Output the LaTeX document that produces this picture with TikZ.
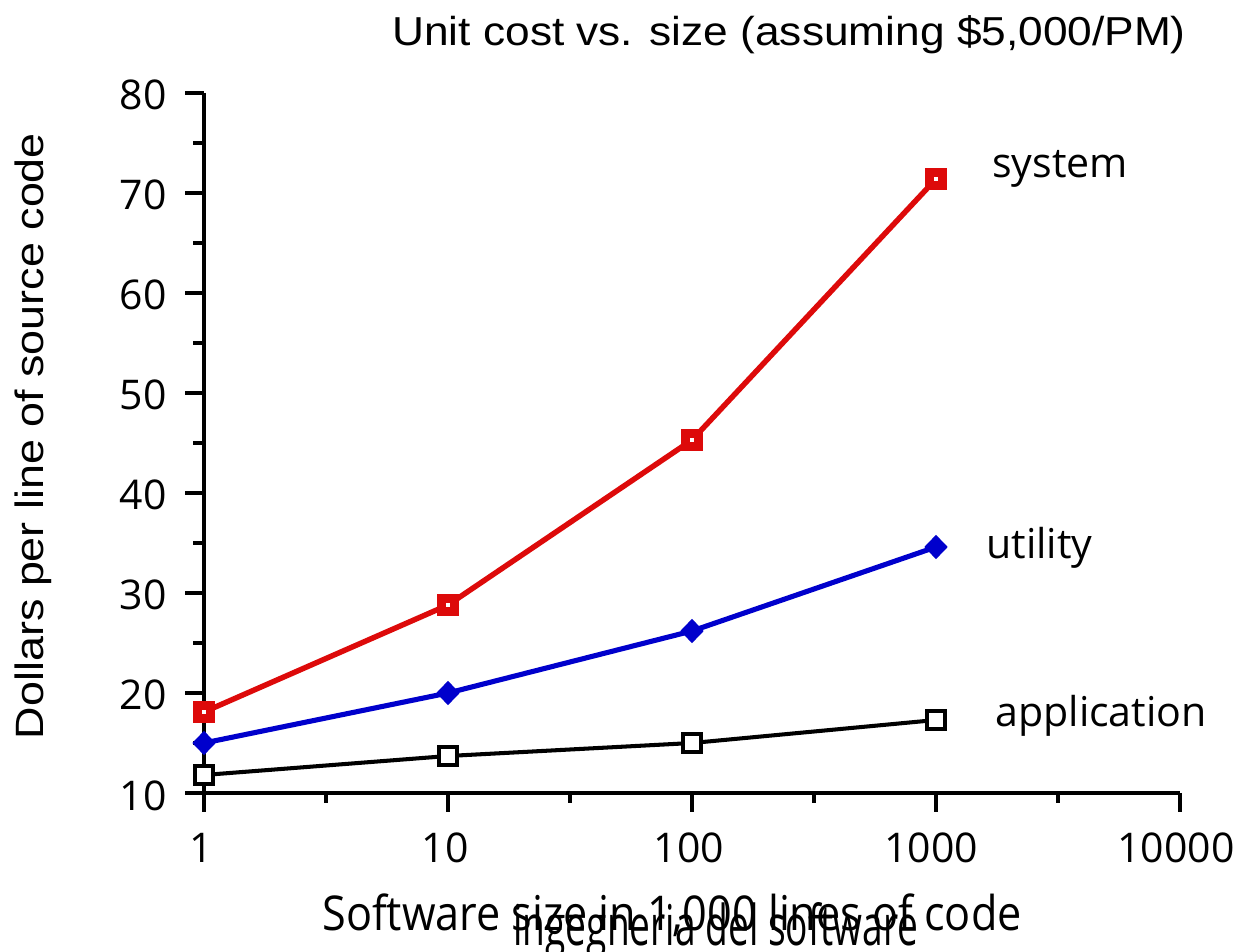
\documentclass[tikz,border=0pt]{standalone}
\usepackage{fontspec}
\setmainfont{Open Sans}
\newfontfamily\helvfont{Liberation Sans}
\usetikzlibrary{shapes.geometric,backgrounds}
\definecolor{sysred}{RGB}{221,10,10}
\definecolor{utilblue}{RGB}{0,0,204}
\begin{document}
\begin{tikzpicture}[x=0.02cm,y=-0.02cm,
  axisline/.style={line width=2.4pt},
  ticklabel/.style={inner sep=0pt, font=\fontsize{23.3}{28}\selectfont},
  serieslabel/.style={inner sep=0pt, anchor=base west, font=\fontsize{23.4}{28}\selectfont},
  sysline/.style={sysred, line width=3.1pt},
  utilline/.style={utilblue, line width=2.9pt},
  appline/.style={black, line width=2.3pt},
  sysmark/.style={rectangle, fill=sysred, minimum size=12.8pt, inner sep=0pt,
    path picture={\fill[white] ([xshift=-1.2pt,yshift=-1.2pt]path picture bounding box.center) rectangle ++(2.4pt,2.4pt);}},
  utilmark/.style={diamond, fill=utilblue, minimum width=13.5pt, minimum height=14pt, inner sep=0pt},
  appmark/.style={rectangle, draw=black, fill=white, line width=2.1pt, minimum size=10pt, inner sep=0pt}
]
\useasboundingbox (0,0) rectangle (1245,952);

% axes
\draw[axisline] (185,793) -- (1180,793);
\draw[axisline] (204,93) -- (204,812);

% y ticks and labels
\foreach \v in {10,20,...,80} {
  \draw[axisline] (185,{893-10*\v}) -- (204,{893-10*\v});
  \node[ticklabel, anchor=base east] (yl\v) at (167,{910-10*\v}) {\v};
}
\foreach \v in {15,25,...,75} {
  \draw[axisline] (193,{893-10*\v}) -- (204,{893-10*\v});
}

% x ticks (log scale, one decade = 244 units)
\foreach \x in {448,692,936,1180} {
  \draw[axisline] (\x,793) -- (\x,812);
}
\foreach \x in {326,570,814,1058} {
  \draw[axisline] (\x,793) -- (\x,803);
}
\node[ticklabel, anchor=base] (xl1) at (201,863) {1};
\node[ticklabel, anchor=base] (xl10) at (445,863) {10};
\node[ticklabel, anchor=base] (xl100) at (689,863) {100};
\node[ticklabel, anchor=base] (xl1000) at (931,863) {1000};
\node[ticklabel, anchor=base] (xl10000) at (1176,863) {10000};

% data markers
\node[sysmark] (s1) at (204,712) {};
\node[sysmark] (s2) at (448,605) {};
\node[sysmark] (s3) at (692,440) {};
\node[sysmark] (s4) at (936,179) {};

\node[utilmark] (u1) at (204,743) {};
\node[utilmark] (u2) at (448,693) {};
\node[utilmark] (u3) at (692,631) {};
\node[utilmark] (u4) at (936,547) {};

\node[appmark] (a1) at (204,775) {};
\node[appmark] (a2) at (448,756) {};
\node[appmark] (a3) at (692,743) {};
\node[appmark] (a4) at (936,720) {};

% series lines behind the markers
\begin{pgfonlayer}{background}
  \draw[sysline] (s1.center) -- (s2.center) -- (s3.center) -- (s4.center);
  \draw[utilline] (u1.center) -- (u2.center) -- (u3.center) -- (u4.center);
  \draw[appline] (a1.center) -- (a2.center) -- (a3.center) -- (a4.center);
\end{pgfonlayer}

% series labels
\node[serieslabel] (lsys) at (992,178) {system};
\node[serieslabel] (lutil) at (986,559) {utility};
\node[serieslabel] (lapp) at (995,727) {application};

% titles
\node[anchor=base west, inner sep=0pt, font=\helvfont\fontsize{23}{28}\selectfont] (title) at (392,46)
  {\scalebox{1.095}[1]{Unit cost vs. size (assuming \$5,000/PM)}};
\node[rotate=90, anchor=base, inner sep=0pt, font=\helvfont\fontsize{22.5}{27}\selectfont] (ylabel) at (43,436)
  {\scalebox{1.135}[1]{Dollars per line of source code}};
\node[anchor=base, inner sep=0pt, font=\fontsize{27.3}{32}\selectfont] (xlabel) at (672,930)
  {\scalebox{0.9}[1]{Software size in 1,000 lines of code}};
\node[anchor=base, inner sep=0pt, font=\fontsize{32}{36}\selectfont] (footer) at (716,945)
  {\scalebox{0.66}[1]{ingegneria del software}};
\end{tikzpicture}
\end{document}
